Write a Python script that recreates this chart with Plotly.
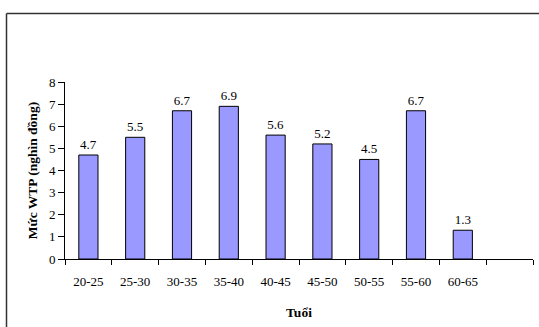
import plotly.graph_objects as go

# Age groups and willingness-to-pay (thousand VND)
age_groups = ["20-25", "25-30", "30-35", "35-40", "40-45", "45-50", "50-55", "55-60", "60-65"]
wtp = [4.7, 5.5, 6.7, 6.9, 5.6, 5.2, 4.5, 6.7, 1.3]
# trailing empty slot on the category axis
spare_slot = [" "]

y_ticks = list(range(0, 9))

font_family = "Liberation Serif, Times New Roman, serif"

fig = go.Figure()
fig.add_trace(go.Bar(
    x=age_groups + spare_slot,
    y=wtp + [None],
    width=0.41,
    marker=dict(color="#9999FF", line=dict(color="#000000", width=1)),
    text=[f"{v:.1f}" for v in wtp] + [""],
    textposition="outside",
    textfont=dict(family=font_family, size=13, color="#000000"),
    cliponaxis=False,
))

W, H = 539, 327
ml, mr, mt, mb = 65, 6, 82, 68
pw, ph = W - ml - mr, H - mt - mb

def px_x(v):
    return (v - ml) / pw

def px_y(v):
    return (H - mb - v) / ph

# outer frame: top and left edges, drawn beneath the plot
frame = dict(color="#333333", width=1.5)
fig.add_shape(type="line", xref="paper", yref="paper", layer="below",
              x0=px_x(6.5), x1=px_x(W + 40), y0=px_y(13.5), y1=px_y(13.5), line=frame)
fig.add_shape(type="line", xref="paper", yref="paper", layer="below",
              x0=px_x(6.5), x1=px_x(6.5), y0=px_y(13.5), y1=px_y(H + 40), line=frame)

fig.update_layout(
    width=W, height=H,
    margin=dict(l=ml, r=mr, t=mt, b=mb),
    paper_bgcolor="white", plot_bgcolor="white",
    showlegend=False,
    font=dict(family=font_family, size=13, color="#000000"),
    xaxis=dict(
        type="category",
        categoryorder="array", categoryarray=age_groups + spare_slot,
        range=[-0.5, len(age_groups) + 0.5],
        showline=True, linecolor="#000000", linewidth=1,
        ticks="outside", tickson="boundaries", ticklen=5, tickcolor="#000000",
        showgrid=False, zeroline=False,
        tickfont=dict(size=13),
        ticklabelstandoff=10,
        title=dict(text="<b>Tuổi</b>", font=dict(size=13.5), standoff=19),
    ),
    yaxis=dict(
        range=[0, 8], tickvals=y_ticks,
        showline=True, linecolor="#000000", linewidth=1,
        ticks="outside", ticklen=6, tickcolor="#000000",
        showgrid=False, zeroline=False,
        tickfont=dict(size=13),
        title=dict(text="<b>Mức WTP (nghìn đồng)</b>", font=dict(size=13.5), standoff=8),
    ),
)

fig.write_html("out.html", config={"displayModeBar": False})
